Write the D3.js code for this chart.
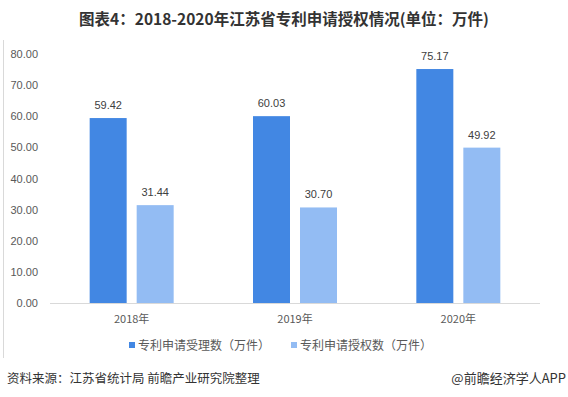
<!DOCTYPE html>
<html>
<head>
<meta charset="utf-8">
<script src="https://cdn.jsdelivr.net/npm/d3@7"></script>
<style>
  body { margin: 0; background: #fff; }
  svg { font-family: "Noto Sans CJK SC", "Liberation Sans", sans-serif; }
</style>
</head>
<body>
<svg width="568" height="397"></svg>
<script>
const years = ["2018年", "2019年", "2020年"];
const seriesNames = ["专利申请受理数（万件）", "专利申请授权数（万件）"];
const accepted = [59.42, 60.03, 75.17];
const granted = [31.44, 30.70, 49.92];
const yTicks = [0, 10, 20, 30, 40, 50, 60, 70, 80];

const colors = ["#4287e3", "#93bcf3"];
const svg = d3.select("svg");

// title, sized to span roughly x 78..490 like the reference
const title = svg.append("text")
    .attr("x", 284).attr("y", 25)
    .attr("text-anchor", "middle")
    .attr("font-size", 15).attr("font-weight", "bold")
    .attr("fill", "#333")
    .text("图表4：2018-2020年江苏省专利申请授权情况(单位：万件)");
const tw = title.node().getComputedTextLength();
title.attr("font-size", Math.min(17, 15 * 410 / tw));

// left frame line
svg.append("line")
    .attr("x1", 3.5).attr("x2", 3.5).attr("y1", 40).attr("y2", 358)
    .attr("stroke", "#d9d9d9");

const x = d3.scaleBand().domain(years).range([50, 540]);
const y = d3.scaleLinear().domain([0, 80]).range([303, 54]);

// y labels
svg.append("g").selectAll("text")
    .data(yTicks)
    .join("text")
    .attr("x", 38).attr("y", d => y(d) + 4)
    .attr("text-anchor", "end")
    .attr("font-size", 11).attr("fill", "#595959")
    .attr("font-family", "Liberation Sans, sans-serif")
    .text(d => d.toFixed(2));

// baseline
svg.append("line")
    .attr("x1", 50).attr("x2", 540)
    .attr("y1", y(0) + 0.5).attr("y2", y(0) + 0.5)
    .attr("stroke", "#d9d9d9");

const barW = 37, gap = 10;
const data = years.map((yr, i) => [
  { yr, k: 0, v: accepted[i] },
  { yr, k: 1, v: granted[i] }
]).flat();

const barX = d => x(d.yr) + x.bandwidth() / 2 + (d.k === 0 ? -gap / 2 - barW : gap / 2);

svg.append("g").selectAll("rect")
    .data(data)
    .join("rect")
    .attr("x", barX)
    .attr("y", d => y(d.v))
    .attr("width", barW)
    .attr("height", d => y(0) - y(d.v))
    .attr("fill", d => colors[d.k]);

svg.append("g").selectAll("text")
    .data(data)
    .join("text")
    .attr("x", d => barX(d) + barW / 2)
    .attr("y", d => y(d.v) - 9)
    .attr("text-anchor", "middle")
    .attr("font-size", 11).attr("fill", "#404040")
    .attr("font-family", "Liberation Sans, sans-serif")
    .text(d => d.v.toFixed(2));

// category labels
svg.append("g").selectAll("text")
    .data(years)
    .join("text")
    .attr("x", d => x(d) + x.bandwidth() / 2)
    .attr("y", 323)
    .attr("text-anchor", "middle")
    .attr("font-size", 11).attr("fill", "#595959")
    .text(d => d);

// legend
const legendX = [129, 291];
const lg = svg.append("g").selectAll("g")
    .data(seriesNames)
    .join("g")
    .attr("transform", (d, i) => `translate(${legendX[i]},345)`);
lg.append("rect")
    .attr("x", 0).attr("y", -3).attr("width", 6).attr("height", 6)
    .attr("fill", (d, i) => colors[i]);
lg.append("text")
    .attr("x", 9).attr("y", 4.5)
    .attr("font-size", 12).attr("fill", "#595959")
    .text(d => d);

// footer
svg.append("text")
    .attr("x", 7).attr("y", 383)
    .attr("font-size", 12.5).attr("fill", "#333")
    .text("资料来源：江苏省统计局 前瞻产业研究院整理");
svg.append("text")
    .attr("x", 566).attr("y", 383)
    .attr("text-anchor", "end")
    .attr("font-size", 13).attr("fill", "#333")
    .text("@前瞻经济学人APP");
</script>
</body>
</html>
